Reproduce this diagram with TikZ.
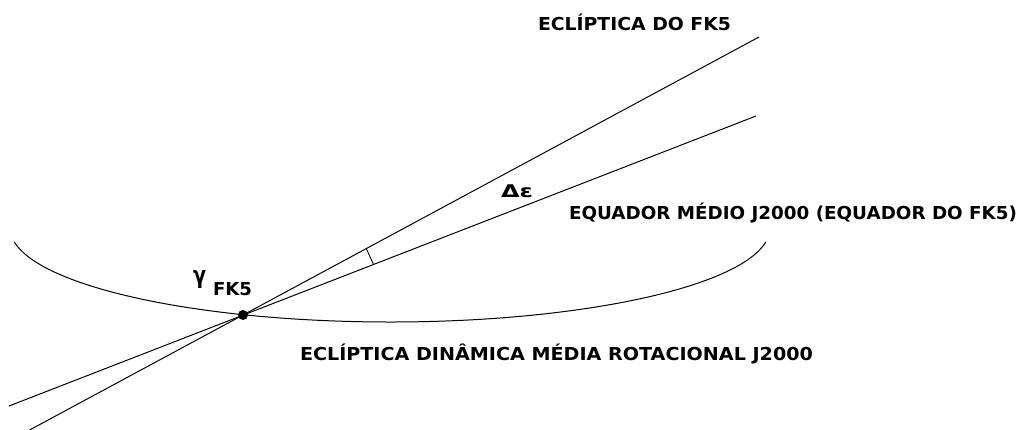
\documentclass[tikz,border=0pt]{standalone}
\usepackage{graphicx}
\usepackage{fontspec}
\setmainfont{DejaVu Sans}
\newcommand\fitcaps[2]{\resizebox{#1}{13pt}{\smash{\bfseries #2}\vphantom{\bfseries E}}}
\begin{document}
\begin{tikzpicture}[x=1pt,y=-1pt,
  lbl/.style={anchor=south west, inner sep=0pt, outer sep=0pt},
  ln/.style={line width=1pt, black},
  dot/.style={circle, fill=black, inner sep=0pt, minimum size=10pt}]
\useasboundingbox (0,0) rectangle (1021,429);
% points
\node[dot] (g) at (243,315) {};
\coordinate (eclA) at (29.6,430);
\coordinate (eclB) at (759,37);
\coordinate (eqA) at (9,406);
\coordinate (eqB) at (756,116);
\coordinate (dynR) at (765.8,242);
\coordinate (arcA) at (366.3,248.6);
\coordinate (arcB) at (373.5,264.4);
% lines
\draw[ln] (eclA) -- (eclB);
\draw[ln] (eqA) -- (eqB);
\draw[ln] (dynR) arc[start angle=8.57, end angle=171.43, x radius=380, y radius=94];
\draw[line width=0.9pt] (arcA) -- (arcB);
% labels
\node[lbl] (t1) at (538,30) {\fitcaps{193pt}{ECLÍPTICA DO FK5}};
\node[lbl] (t2) at (569,219) {\fitcaps{448pt}{EQUADOR MÉDIO J2000 (EQUADOR DO FK5)}};
\node[lbl] (t3) at (300,360) {\fitcaps{513pt}{ECLÍPTICA DINÂMICA MÉDIA ROTACIONAL J2000}};
\node[lbl] (de) at (501,198) {\resizebox*{32pt}{13pt}{\bfseries Δε}};
\node[lbl] (gam) at (193,288) {\resizebox*{13pt}{18pt}{\bfseries γ}};
\node[lbl] (fk) at (213,295) {\fitcaps{39pt}{FK5}};
\end{tikzpicture}
\end{document}
